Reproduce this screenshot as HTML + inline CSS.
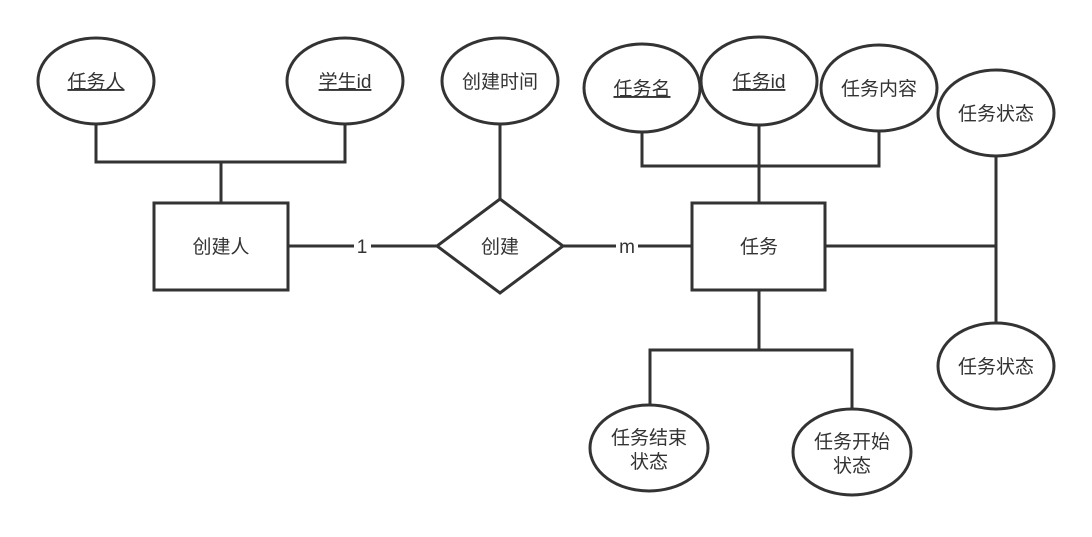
<!DOCTYPE html>
<html><head><meta charset="utf-8"><style>
html,body{margin:0;padding:0;background:#fff;}
svg text{font-family:"Liberation Sans","Noto Sans CJK SC",sans-serif;font-size:19px;fill:#333;}
</style></head><body>
<svg width="1092" height="532" viewBox="0 0 1092 532" xmlns="http://www.w3.org/2000/svg">
<g stroke="#333" stroke-width="3" fill="none">
<polyline points="96,123 96,162 345,162 345,123"/>
<line x1="221" y1="162" x2="221" y2="203"/>
<line x1="500" y1="124" x2="500" y2="199"/>
<line x1="288" y1="246" x2="354" y2="246"/><line x1="371" y1="246" x2="437" y2="246"/>
<line x1="563" y1="246" x2="616" y2="246"/><line x1="638" y1="246" x2="692" y2="246"/>
<polyline points="642,132 642,166 879,166 879,132"/>
<line x1="759" y1="125" x2="759" y2="203"/>
<line x1="825" y1="246" x2="996" y2="246"/>
<line x1="996" y1="157" x2="996" y2="323"/>
<line x1="759" y1="290" x2="759" y2="350"/>
<polyline points="650,405 650,350 852,350 852,409"/>
<rect x="154" y="203" width="134" height="87" fill="#fff"/>
<rect x="692" y="203" width="133" height="87" fill="#fff"/>
<polygon points="500,199 563,246 500,293 437,246" fill="#fff"/>
<ellipse cx="96" cy="81" rx="58" ry="43" fill="#fff"/>
<ellipse cx="345" cy="81" rx="58" ry="43" fill="#fff"/>
<ellipse cx="500" cy="81" rx="58" ry="43" fill="#fff"/>
<ellipse cx="642" cy="88" rx="58" ry="44" fill="#fff"/>
<ellipse cx="759" cy="81" rx="58" ry="44" fill="#fff"/>
<ellipse cx="879" cy="88" rx="58" ry="43" fill="#fff"/>
<ellipse cx="996" cy="113" rx="58" ry="43" fill="#fff"/>
<ellipse cx="996" cy="366" rx="58" ry="43" fill="#fff"/>
<ellipse cx="649" cy="448" rx="59" ry="43" fill="#fff"/>
<ellipse cx="852" cy="452" rx="59" ry="43" fill="#fff"/>
</g>
<g text-anchor="middle">
<text x="96" y="88" text-decoration="underline">任务人</text>
<text x="345" y="88" text-decoration="underline">学生id</text>
<text x="500" y="88">创建时间</text>
<text x="642" y="95" text-decoration="underline">任务名</text>
<text x="759" y="88" text-decoration="underline">任务id</text>
<text x="879" y="95">任务内容</text>
<text x="996" y="120">任务状态</text>
<text x="996" y="373">任务状态</text>
<text x="649" y="444">任务结束</text>
<text x="649" y="468">状态</text>
<text x="852" y="448">任务开始</text>
<text x="852" y="472">状态</text>
<text x="221" y="253">创建人</text>
<text x="759" y="253">任务</text>
<text x="500" y="253">创建</text>
<text x="362" y="253">1</text>
<text x="627" y="253">m</text>
</g>
</svg>
</body></html>
